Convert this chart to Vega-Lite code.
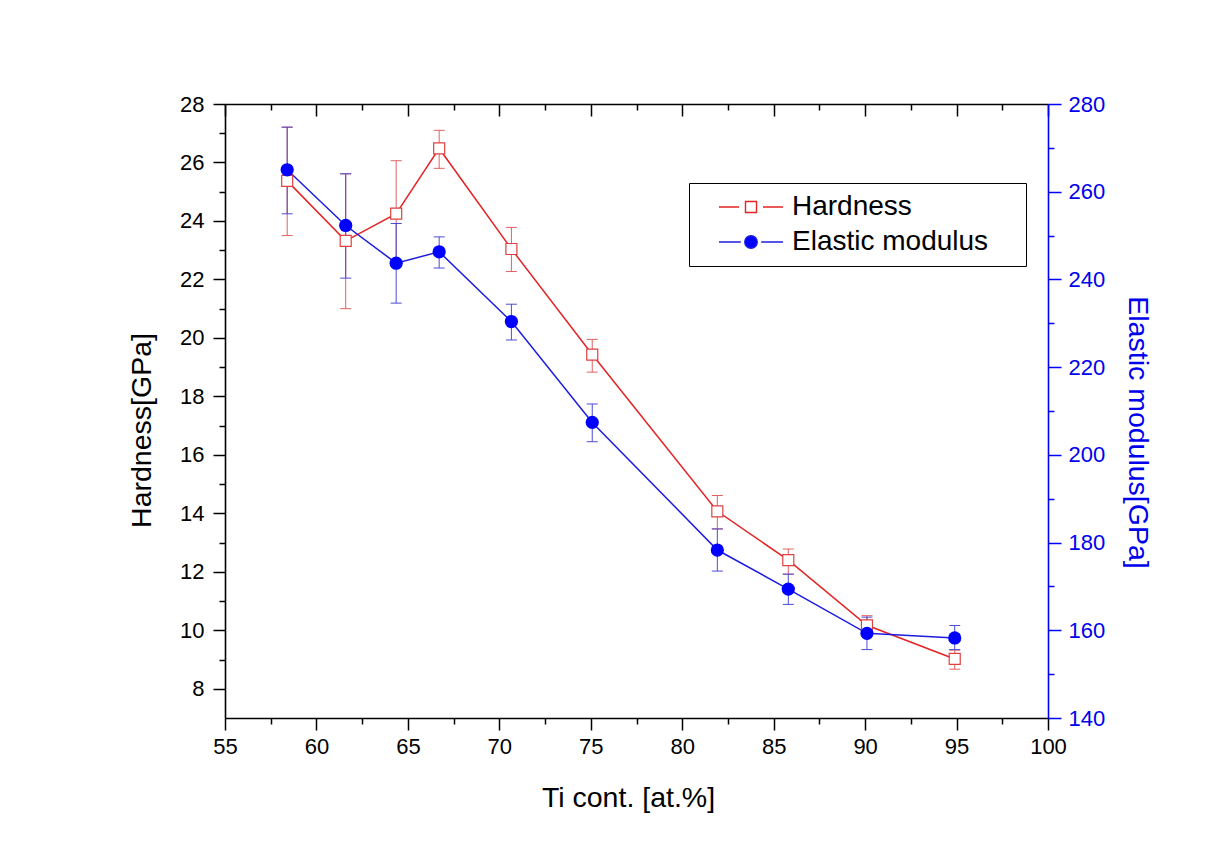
{
  "$schema": "https://vega.github.io/schema/vega-lite/v6.json",
  "width": 823,
  "height": 614,
  "autosize": {"type": "none"},
  "padding": {"left": 225, "top": 104, "right": 161, "bottom": 129},
  "background": "white",
  "data": {
    "values": [
      {"series": "Hardness", "ti": 58.4, "v": 25.37, "lo": 23.5, "hi": 27.2},
      {"series": "Hardness", "ti": 61.6, "v": 23.32, "lo": 21.0, "hi": 25.61},
      {"series": "Hardness", "ti": 64.36, "v": 24.25, "lo": 22.44, "hi": 26.06},
      {"series": "Hardness", "ti": 66.71, "v": 26.48, "lo": 25.8, "hi": 27.1},
      {"series": "Hardness", "ti": 70.66, "v": 23.04, "lo": 22.27, "hi": 23.78},
      {"series": "Hardness", "ti": 75.08, "v": 19.43, "lo": 18.83, "hi": 19.95},
      {"series": "Hardness", "ti": 81.92, "v": 14.07, "lo": 13.47, "hi": 14.61},
      {"series": "Hardness", "ti": 85.8, "v": 12.4, "lo": 11.92, "hi": 12.78},
      {"series": "Hardness", "ti": 90.1, "v": 10.17, "lo": 9.84, "hi": 10.5},
      {"series": "Hardness", "ti": 94.9, "v": 9.02, "lo": 8.67, "hi": 9.32},
      {"series": "Elastic modulus", "ti": 58.4, "v": 265.0, "lo": 254.96, "hi": 274.75},
      {"series": "Elastic modulus", "ti": 61.6, "v": 252.3, "lo": 240.3, "hi": 264.1},
      {"series": "Elastic modulus", "ti": 64.36, "v": 243.7, "lo": 234.6, "hi": 252.75},
      {"series": "Elastic modulus", "ti": 66.71, "v": 246.3, "lo": 242.6, "hi": 249.7},
      {"series": "Elastic modulus", "ti": 70.66, "v": 230.4, "lo": 226.2, "hi": 234.35},
      {"series": "Elastic modulus", "ti": 75.08, "v": 207.4, "lo": 203.0, "hi": 211.6},
      {"series": "Elastic modulus", "ti": 81.92, "v": 178.3, "lo": 173.5, "hi": 183.1},
      {"series": "Elastic modulus", "ti": 85.8, "v": 169.4, "lo": 165.9, "hi": 172.8},
      {"series": "Elastic modulus", "ti": 90.1, "v": 159.3, "lo": 155.6, "hi": 163.0},
      {"series": "Elastic modulus", "ti": 94.9, "v": 158.25, "lo": 155.6, "hi": 161.1}
    ]
  },
  "resolve": {
    "scale": {"x": "independent", "y": "independent"},
    "axis": {"x": "independent", "y": "independent"}
  },
  "layer": [
    {
      "transform": [{"filter": "datum.series === 'Hardness'"}],
      "mark": {"type": "rule", "color": "#e06262", "strokeWidth": 1},
      "encoding": {
        "x": {"field": "ti", "type": "quantitative", "scale": {"domain": [55, 100], "nice": false, "zero": false},
          "axis": {"orient": "bottom", "values": [55, 60, 65, 70, 75, 80, 85, 90, 95, 100], "tickSize": 12, "labelPadding": 6, "labelFlush": false, "title": "Ti cont. [at.%]", "titleX": 403, "titleY": 79, "titleBaseline": "middle"}},
        "y": {"field": "lo", "type": "quantitative", "scale": {"domain": [7, 28], "nice": false, "zero": false},
          "axis": {"orient": "left", "values": [8, 10, 12, 14, 16, 18, 20, 22, 24, 26, 28], "tickSize": 12, "labelPadding": 9, "title": "Hardness[GPa]", "titleX": -84, "titleY": 326, "titleAngle": -90, "titleBaseline": "middle", "titleAlign": "center"}},
        "y2": {"field": "hi"}
      }
    },
    {
      "transform": [{"filter": "datum.series === 'Hardness'"}, {"fold": ["lo", "hi"], "as": ["which", "cap"]}],
      "mark": {"type": "tick", "orient": "horizontal", "color": "#e06262", "size": 11, "thickness": 1, "opacity": 1},
      "encoding": {
        "x": {"field": "ti", "type": "quantitative", "scale": {"domain": [55, 100], "nice": false, "zero": false},
          "axis": {"orient": "bottom", "values": [57.5, 62.5, 67.5, 72.5, 77.5, 82.5, 87.5, 92.5, 97.5], "tickSize": 6, "labels": false, "domain": false, "title": null}},
        "y": {"field": "cap", "type": "quantitative", "scale": {"domain": [7, 28], "nice": false, "zero": false},
          "axis": {"orient": "left", "values": [9, 11, 13, 15, 17, 19, 21, 23, 25, 27], "tickSize": 6, "labels": false, "domain": false, "title": null}}
      }
    },
    {
      "transform": [{"filter": "datum.series === 'Elastic modulus'"}],
      "mark": {"type": "rule", "color": "#4b4bd6", "strokeWidth": 1},
      "encoding": {
        "x": {"field": "ti", "type": "quantitative", "scale": {"domain": [55, 100], "nice": false, "zero": false},
          "axis": {"orient": "bottom", "offset": -614, "values": [55, 60, 65, 70, 75, 80, 85, 90, 95, 100], "tickSize": 12, "labels": false, "title": null}},
        "y": {"field": "lo", "type": "quantitative", "scale": {"domain": [140, 280], "nice": false, "zero": false},
          "axis": {"orient": "right", "values": [140, 160, 180, 200, 220, 240, 260, 280], "tickSize": 13, "labelPadding": 7, "labelColor": "#0000ee", "tickColor": "#0000ff", "domainColor": "#0000ff", "titleColor": "#0000ee", "title": "Elastic modulus[GPa]", "titleX": 89.5, "titleY": 328, "titleAngle": 90, "titleBaseline": "middle", "titleAlign": "center"}},
        "y2": {"field": "hi"}
      }
    },
    {
      "transform": [{"filter": "datum.series === 'Elastic modulus'"}, {"fold": ["lo", "hi"], "as": ["which", "cap"]}],
      "mark": {"type": "tick", "orient": "horizontal", "color": "#4b4bd6", "size": 11, "thickness": 1, "opacity": 1},
      "encoding": {
        "x": {"field": "ti", "type": "quantitative", "scale": {"domain": [55, 100], "nice": false, "zero": false},
          "axis": {"orient": "bottom", "offset": -614, "values": [57.5, 62.5, 67.5, 72.5, 77.5, 82.5, 87.5, 92.5, 97.5], "tickSize": 6, "labels": false, "domain": false, "title": null}},
        "y": {"field": "cap", "type": "quantitative", "scale": {"domain": [140, 280], "nice": false, "zero": false},
          "axis": {"orient": "right", "values": [150, 170, 190, 210, 230, 250, 270], "tickSize": 6, "labels": false, "domain": false, "tickColor": "#0000ff", "title": null}}
      }
    },
    {
      "transform": [{"filter": "datum.series === 'Hardness'"}],
      "mark": {"type": "line", "color": "#e32424", "strokeWidth": 1.5},
      "encoding": {
        "x": {"field": "ti", "type": "quantitative", "scale": {"domain": [55, 100], "nice": false, "zero": false}, "axis": null},
        "y": {"field": "v", "type": "quantitative", "scale": {"domain": [7, 28], "nice": false, "zero": false}, "axis": null}
      }
    },
    {
      "transform": [{"filter": "datum.series === 'Elastic modulus'"}],
      "mark": {"type": "line", "color": "#1c1ce0", "strokeWidth": 1.5},
      "encoding": {
        "x": {"field": "ti", "type": "quantitative", "scale": {"domain": [55, 100], "nice": false, "zero": false}, "axis": null},
        "y": {"field": "v", "type": "quantitative", "scale": {"domain": [140, 280], "nice": false, "zero": false}, "axis": null}
      }
    },
    {
      "transform": [{"filter": "datum.series === 'Hardness'"}],
      "mark": {"type": "point", "shape": "square", "filled": true, "fill": "white", "stroke": "#e04040", "strokeWidth": 1.2, "size": 121, "opacity": 1},
      "encoding": {
        "x": {"field": "ti", "type": "quantitative", "scale": {"domain": [55, 100], "nice": false, "zero": false}, "axis": null},
        "y": {"field": "v", "type": "quantitative", "scale": {"domain": [7, 28], "nice": false, "zero": false}, "axis": null}
      }
    },
    {
      "transform": [{"filter": "datum.series === 'Elastic modulus'"}],
      "mark": {"type": "circle", "color": "#0000ff", "size": 175, "opacity": 1},
      "encoding": {
        "x": {"field": "ti", "type": "quantitative", "scale": {"domain": [55, 100], "nice": false, "zero": false}, "axis": null},
        "y": {"field": "v", "type": "quantitative", "scale": {"domain": [140, 280], "nice": false, "zero": false}, "axis": null}
      }
    },
    {
      "mark": {"type": "point", "opacity": 0, "strokeWidth": 1.4},
      "encoding": {
        "x": {"field": "ti", "type": "quantitative", "scale": {"domain": [55, 100], "nice": false, "zero": false}, "axis": null},
        "y": {"field": "hi", "type": "quantitative", "scale": {"domain": [0, 1000], "nice": false, "zero": false}, "axis": null},
        "stroke": {"field": "series", "type": "nominal",
          "scale": {"domain": ["Hardness", "Elastic modulus"], "range": ["#e32424", "#1c1ce0"]},
          "legend": {"orient": "none", "legendX": 464, "legendY": 79, "title": null, "strokeColor": "black", "fillColor": "white", "padding": 10, "rowPadding": 7, "symbolOffset": 38, "labelOffset": 27, "symbolSize": 576, "symbolStrokeWidth": 1.4, "symbolOpacity": 1, "labelFontSize": 28, "labelLimit": 400}},
        "fill": {"field": "series", "type": "nominal",
          "scale": {"domain": ["Hardness", "Elastic modulus"], "range": ["white", "#0000ff"]},
          "legend": {"orient": "none", "legendX": 464, "legendY": 79, "title": null, "strokeColor": "black", "fillColor": "white", "padding": 10, "rowPadding": 7, "symbolOffset": 38, "labelOffset": 27, "symbolSize": 576, "symbolStrokeWidth": 1.4, "symbolOpacity": 1, "labelFontSize": 28, "labelLimit": 400}},
        "shape": {"field": "series", "type": "nominal",
          "scale": {"domain": ["Hardness", "Elastic modulus"], "range": ["M-2.67,0H-1M1,0H2.67M-0.46,-0.46H0.46V0.46H-0.46ZM21.8,0", "M-2.67,0H-0.85M0.85,0H2.67M-0.52,0A0.52,0.52 0 1,0 0.52,0A0.52,0.52 0 1,0 -0.52,0ZM21.8,0"]},
          "legend": {"orient": "none", "legendX": 464, "legendY": 79, "title": null, "strokeColor": "black", "fillColor": "white", "padding": 10, "rowPadding": 7, "symbolOffset": 38, "labelOffset": 27, "symbolSize": 576, "symbolStrokeWidth": 1.4, "symbolOpacity": 1, "labelFontSize": 28, "labelLimit": 400}}
      }
    }
  ],
  "config": {
    "view": {"stroke": null},
    "font": "Liberation Sans",
    "axis": {
      "grid": false,
      "labelFont": "Liberation Sans",
      "titleFont": "Liberation Sans",
      "labelFontSize": 22,
      "titleFontSize": 28.5,
      "titleFontWeight": "normal",
      "labelColor": "black",
      "titleColor": "black",
      "domainColor": "black",
      "tickColor": "black",
      "domainWidth": 1.6,
      "tickWidth": 1.5,
      "labelFlush": false,
      "labelBound": false
    },
    "legend": {
      "labelFont": "Liberation Sans",
      "labelColor": "black"
    }
  }
}
